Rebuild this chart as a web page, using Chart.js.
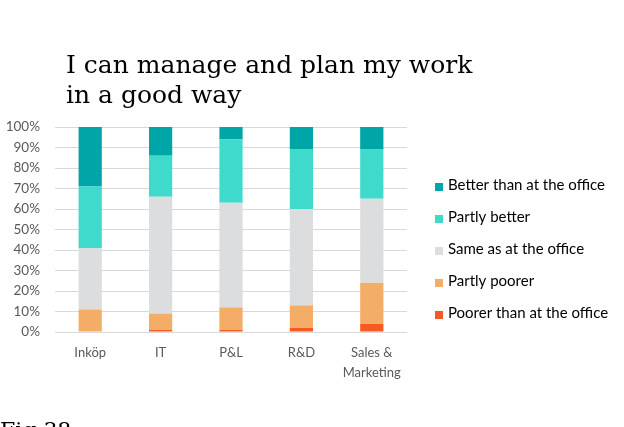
<!DOCTYPE html>
<html lang="en">
<head>
<meta charset="UTF-8">
<title>I can manage and plan my work in a good way</title>
<style>
  body { margin: 0; background: #fff; }
  .wrap { position: relative; width: 624px; height: 427px; }
</style>
</head>
<body>
<div class="wrap"><canvas id="planChart"></canvas></div>
<script src="https://cdn.jsdelivr.net/npm/chart.js"></script>
<script>
// departments along the x axis
const departments = ["Inköp", "IT", "P&L", "R&D", ["Sales &", "Marketing"]];

// share of answers in % per department (stack order: bottom first)
const poorer       = [0, 1, 1, 2, 4];
const partlyPoorer = [11, 8, 11, 11, 20];
const same         = [30, 57, 51, 47, 41];
const partlyBetter = [30, 20, 31, 29, 24];
const better       = [29, 14, 6, 11, 11];

const seriesNames = ["Poorer than at the office", "Partly poorer", "Same as at the office", "Partly better", "Better than at the office"];
const seriesColors = ["#f55a22", "#f4ad66", "#dcdddf", "#40dacd", "#00a5a7"];

const titleLines = ["I can manage and plan my work", "in a good way"];
const captionText = "Fig 38";

const tickFont = "Lato, 'Liberation Sans', sans-serif";

// title, legend and caption drawn by hand so they sit where Excel put them
const decorations = {
    id: "decorations",
    afterDraw(chart) {
        const ctx = chart.ctx;
        ctx.save();

        // title
        ctx.fillStyle = "#000";
        ctx.font = "25px 'DejaVu Serif', serif";
        ctx.textBaseline = "alphabetic";
        ctx.textAlign = "left";
        ctx.fillText(titleLines[0], 66, 73);
        ctx.fillText(titleLines[1], 66, 103);

        // legend, top item is the last dataset
        ctx.font = "15px " + tickFont;
        ctx.textBaseline = "middle";
        const sets = chart.data.datasets;
        for (let i = 0; i < sets.length; i++) {
            const ds = sets[sets.length - 1 - i];
            const y = 185 + i * 32;
            ctx.fillStyle = ds.backgroundColor;
            ctx.fillRect(435, y - 2, 8, 8);
            ctx.fillStyle = "#000";
            ctx.fillText(ds.label, 448, y);
        }

        // figure caption, cut off by the bottom edge
        ctx.font = "22px 'DejaVu Serif', serif";
        ctx.textBaseline = "top";
        ctx.fillText(captionText, 0, 421);
        ctx.restore();
    }
};

const values = [poorer, partlyPoorer, same, partlyBetter, better];

new Chart(document.getElementById("planChart"), {
    type: "bar",
    data: {
        labels: departments,
        datasets: values.map((v, i) => ({
            label: seriesNames[i],
            data: v,
            backgroundColor: seriesColors[i],
            borderWidth: 0,
            barPercentage: 0.33,
            categoryPercentage: 1
        }))
    },
    options: {
        responsive: true,
        maintainAspectRatio: false,
        animation: false,
        layout: { padding: { top: 127, right: 217, bottom: 0, left: 0 } },
        plugins: {
            legend: { display: false },
            tooltip: { enabled: false }
        },
        scales: {
            x: {
                stacked: true,
                grid: { display: false },
                border: { display: false },
                ticks: {
                    color: "#595959",
                    font: { family: tickFont, size: 13, lineHeight: 1.55 },
                    padding: 3,
                    maxRotation: 0
                },
                afterFit(scale) { scale.height = 95; }
            },
            y: {
                stacked: true,
                min: 0,
                max: 100,
                grid: { color: "#d9d9d9", lineWidth: 1, drawTicks: false },
                border: { display: false },
                ticks: {
                    stepSize: 10,
                    color: "#595959",
                    font: { family: tickFont, size: 13.5 },
                    padding: 15,
                    callback: v => v + "%"
                },
                afterFit(scale) { scale.width = 55; }
            }
        }
    },
    plugins: [decorations]
});
</script>
</body>
</html>
